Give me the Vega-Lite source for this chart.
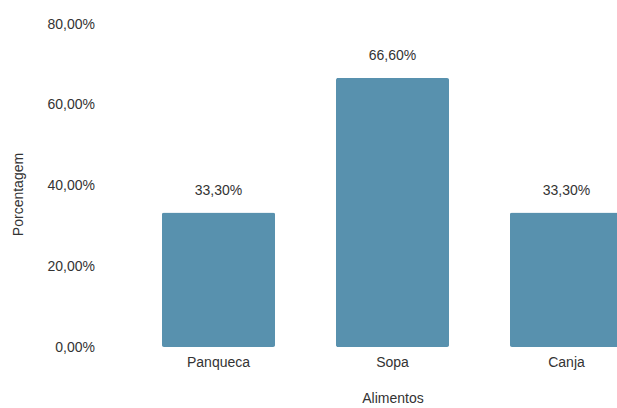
{
  "$schema": "https://vega.github.io/schema/vega-lite/v6.json",
  "autosize": "none",
  "width": 485.5,
  "height": 323,
  "padding": {"left": 131.5, "top": 24, "right": 0, "bottom": 61},
  "config": {
    "locale": {"number": {"decimal": ",", "thousands": ".", "grouping": [3], "currency": ["R$", ""]}},
    "view": {"stroke": null},
    "font": "Liberation Sans"
  },
  "data": {"values": [
    {"alimento": "Panqueca", "pct": 0.333},
    {"alimento": "Sopa", "pct": 0.666},
    {"alimento": "Canja", "pct": 0.333}
  ]},
  "encoding": {
    "x": {"field": "alimento", "type": "nominal", "sort": null,
      "scale": {"range": [0, 522], "paddingInner": 0.35, "paddingOuter": 0.175},
      "axis": {"title": "Alimentos", "labelAngle": 0, "domain": false, "ticks": false, "labelPadding": 8,
        "labelFontSize": 14, "titleFontSize": 14, "titleFontWeight": "normal", "labelColor": "#333", "titleColor": "#333", "titlePadding": 22}},
    "y": {"field": "pct", "type": "quantitative",
      "scale": {"domain": [0, 0.8]},
      "axis": {"title": "Porcentagem", "format": ".2%", "values": [0, 0.2, 0.4, 0.6, 0.8], "domain": false, "ticks": false, "grid": false,
        "labelPadding": 37, "labelFontSize": 14, "titleFontSize": 14, "titleFontWeight": "normal", "labelColor": "#333", "titleColor": "#333", "titlePadding": 22, "titleY": 170}}
  },
  "layer": [
    {"mark": {"type": "bar", "color": "#5891ae", "cornerRadius": 2, "width": {"band": 1}}},
    {"mark": {"type": "text", "dy": -22, "fontSize": 14, "color": "#333", "baseline": "middle"},
     "encoding": {"text": {"field": "pct", "type": "quantitative", "format": ".2%"}}}
  ]
}
